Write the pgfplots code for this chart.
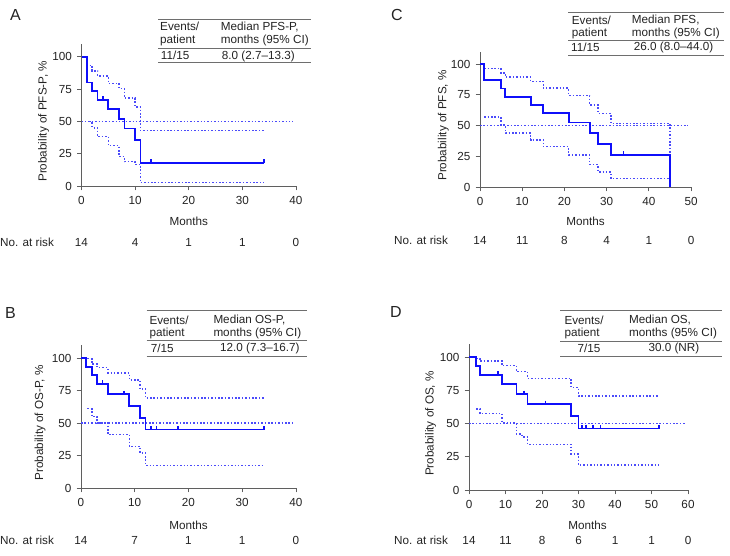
\documentclass[border=0pt]{standalone}
\usepackage{pgfplots}
\pgfplotsset{compat=1.18}
\usepackage{fontspec}
\setmainfont{Liberation Sans}
\definecolor{kmcol}{RGB}{15,15,250}
\definecolor{cicol}{RGB}{75,75,250}
\definecolor{axgray}{RGB}{95,95,95}
\definecolor{txt}{RGB}{35,35,35}
\definecolor{rule}{RGB}{110,110,110}
\newcommand{\lbl}{\fontsize{11.7}{13}\selectfont}
\pgfplotsset{
  kmaxis/.style={scale only axis, axis x line*=bottom, axis y line*=left,
    axis line style={-, draw=axgray, line width=0.8pt},
    tick style={draw=axgray, line width=0.8pt},
    tick align=outside, major tick length=4.5pt,
    ymin=0, ymax=110, ytick={0,25,50,75,100}, xmin=0, clip=false,
    tick label style={font=\lbl, text=txt},
    /pgf/number format/assume math mode=true,
    xticklabel style={anchor=center, yshift=-10pt},
    yticklabel style={xshift=-1.5pt},
  },
  km/.style={kmcol, line width=1.8pt, const plot},
  ci/.style={cicol, line width=1.5pt, dash pattern=on 1.5pt off 1.9pt, const plot},
  med/.style={cicol, line width=1.5pt, dash pattern=on 1.5pt off 1.9pt},
  cens/.style={only marks, mark=|, mark size=2pt, kmcol, mark options={line width=1.5pt, yshift=1.5pt}},
}
\begin{document}
\begin{tikzpicture}[font=\lbl, text=txt]
\path[use as bounding box] (0pt,0pt) rectangle (730pt,556pt);

% ---------------- Panel A ----------------
\begin{axis}[kmaxis, at={(81.5pt,370pt)}, anchor=south west, width=214.5pt, height=142.2pt,
  xmax=40, xtick={0,10,20,30,40}]
\addplot[med] coordinates {(0,50) (39.5,50)};
\addplot[ci] coordinates {(1.5,93.3)(2,89)(3,85)(5,79.4)(7,75.5)(8,68)(10,61)(11,42.8)(34,42.8)};
\addplot[ci] coordinates {(1.5,49.7)(2,45)(3,38.1)(5,31.2)(7,22.7)(8,18.8)(10,16.8)(11,2.6)(34,2.6)};
\addplot[km] coordinates {(0,100)(1,80)(2,73.3)(3,66.7)(5,59.3)(7,51.9)(8,44.4)(10,35.6)(11,17.8)(34,17.8)};
\addplot[cens] coordinates {(4,66.7)(13,17.8)(34,17.8)};
\node[xshift=-38pt, rotate=90] at (axis cs:0,50) {Probability of PFS-P, \%};
\node at (axis cs:20,0) [yshift=-35.5pt] {Months};
\node at (axis cs:0,0) [yshift=-56pt] {14};
\node at (axis cs:10,0) [yshift=-56pt] {4};
\node at (axis cs:20,0) [yshift=-56pt] {1};
\node at (axis cs:30,0) [yshift=-56pt] {1};
\node at (axis cs:40,0) [yshift=-56pt] {0};
\end{axis}

% ---------------- Panel C ----------------
\begin{axis}[kmaxis, at={(480pt,369pt)}, anchor=south west, width=211pt, height=135.3pt,
  xmax=50, xtick={0,10,20,30,40,50}]
\addplot[med] coordinates {(0,50) (49.4,50)};
\addplot[ci] coordinates {(1,96.5)(5,92.5)(6,89.3)(12,85.8)(15,80.3)(21,74.4)(26,66.6)(28,59.8)(31,51.6)(45,6.8)};
\addplot[ci] coordinates {(1,57)(5,50.5)(6,43.7)(12,38.3)(15,32.8)(21,26)(26,18.2)(28,12.2)(31,6.8)(45,6.8)};
\addplot[km] coordinates {(0,100)(1,86.7)(5,80)(6,73.3)(12,66.7)(15,60)(21,52.5)(26,43.7)(28,35)(31,26.2)(45,0)};
\addplot[cens] coordinates {(34,26.2)};
\node[xshift=-36.7pt, rotate=90] at (axis cs:0,50) {Probability of PFS, \%};
\node at (axis cs:25,0) [yshift=-34pt] {Months};
\node at (axis cs:0,0) [yshift=-53pt] {14};
\node at (axis cs:10,0) [yshift=-53pt] {11};
\node at (axis cs:20,0) [yshift=-53pt] {8};
\node at (axis cs:30,0) [yshift=-53pt] {4};
\node at (axis cs:40,0) [yshift=-53pt] {1};
\node at (axis cs:50,0) [yshift=-53pt] {0};
\end{axis}

% ---------------- Panel B ----------------
\begin{axis}[kmaxis, at={(81pt,68pt)}, anchor=south west, width=215pt, height=143pt,
  xmax=40, xtick={0,10,20,30,40}]
\addplot[med] coordinates {(0,50) (39.6,50)};
\addplot[ci] coordinates {(1.2,99.5)(2,95.5)(3,92.5)(5,88.5)(9,83)(11,76)(12,69.2)(34,69.2)};
\addplot[ci] coordinates {(1.2,61)(2,55)(3,50)(5,41)(9,32)(11,27)(12,17.2)(34,17.2)};
\addplot[km] coordinates {(0,100)(1,93.3)(2,86.7)(3,80)(5,72)(9,63)(11,54)(12,45)(34,45)};
\addplot[cens] coordinates {(4,80)(8,72)(13,45)(14,45)(18,45)(34,45)};
\node[xshift=-41pt, rotate=90] at (axis cs:0,50) {Probability of OS-P, \%};
\node at (axis cs:20,0) [yshift=-37pt] {Months};
\node at (axis cs:0,0) [yshift=-52pt] {14};
\node at (axis cs:10,0) [yshift=-52pt] {7};
\node at (axis cs:20,0) [yshift=-52pt] {1};
\node at (axis cs:30,0) [yshift=-52pt] {1};
\node at (axis cs:40,0) [yshift=-52pt] {0};
\end{axis}

% ---------------- Panel D ----------------
\begin{axis}[kmaxis, at={(469pt,66pt)}, anchor=south west, width=219pt, height=146.3pt,
  xmax=60, xtick={0,10,20,30,40,50,60}]
\addplot[med] coordinates {(0,50) (59.3,50)};
\addplot[ci] coordinates {(2,99)(3,97)(9,93.5)(13,89)(16,84)(28,77)(30,70.7)(52,70.7)};
\addplot[ci] coordinates {(2,61)(3,57.6)(9,50.5)(13,42)(14.5,40)(16,34.3)(28,27)(30,18.8)(52,18.8)};
\addplot[km] coordinates {(0,100)(2,93)(3,86.7)(9,79.5)(13,72)(16,64.5)(28,55.5)(30,46.3)(52,46.3)};
\addplot[cens] coordinates {(8,86.7)(15,72)(21,64.5)(31,46.3)(32,46.3)(34,46.3)(36,46.3)(52,46.3)};
\node[xshift=-38.3pt, rotate=90] at (axis cs:0,50) {Probability of OS, \%};
\node at (axis cs:32.5,0) [yshift=-35pt] {Months};
\node at (axis cs:0,0) [yshift=-50pt] {14};
\node at (axis cs:10,0) [yshift=-50pt] {11};
\node at (axis cs:20,0) [yshift=-50pt] {8};
\node at (axis cs:30,0) [yshift=-50pt] {6};
\node at (axis cs:40,0) [yshift=-50pt] {1};
\node at (axis cs:50,0) [yshift=-50pt] {1};
\node at (axis cs:60,0) [yshift=-50pt] {0};
\end{axis}

\begin{scope}[x=1pt,y=1pt]
% ---------------- No. at risk labels ----------------
\node[anchor=west, inner sep=0pt] at (0,313.7) {No. at risk};
\node[anchor=west, inner sep=0pt] at (394,316) {No. at risk};
\node[anchor=west, inner sep=0pt] at (0,16) {No. at risk};
\node[anchor=west, inner sep=0pt] at (394,16) {No. at risk};

% ---------------- Panel letters ----------------
\begin{scope}[font=\fontsize{16}{18}\selectfont]
\node[anchor=west, inner sep=0pt] at (10,541) {A};
\node[anchor=west, inner sep=0pt] at (391,541) {C};
\node[anchor=west, inner sep=0pt] at (5,243) {B};
\node[anchor=west, inner sep=0pt] at (390,244) {D};
\end{scope}

% ---------------- Tables ----------------
\begin{scope}[line width=0.9pt, rule]
\draw (158,537) -- (311,537);
\draw (158,507.7) -- (311,507.7);
\draw (158,493.7) -- (311,493.7);
\draw (568.3,543.3) -- (724.3,543.3);
\draw (568.3,515.3) -- (724.3,515.3);
\draw (568.3,501) -- (724.3,501);
\draw (146.7,245.3) -- (307.3,245.3);
\draw (146.7,215.3) -- (307.3,215.3);
\draw (146.7,200) -- (307.3,200);
\draw (560,245.3) -- (721.7,245.3);
\draw (560,215) -- (721.7,215);
\draw (560,199.3) -- (721.7,199.3);
\end{scope}
\begin{scope}[every node/.style={anchor=west, inner sep=0pt}]
\node at (160,529.3) {Events/};
\node at (160,515.3) {patient};
\node at (220.7,529.3) {Median PFS-P,};
\node at (220.7,515.3) {months (95\% CI)};
\node at (160.7,500.5) {11/15};
\node at (221.7,500) {8.0 (2.7--13.3)};
\node at (571.7,536) {Events/};
\node at (571.7,522.7) {patient};
\node at (631.7,536) {Median PFS,};
\node at (631.7,522.7) {months (95\% CI)};
\node at (571,508.3) {11/15};
\node at (633.7,508.3) {26.0 (8.0--44.0)};
\node at (149.3,236) {Events/};
\node at (149.3,222.7) {patient};
\node at (213.3,236) {Median OS-P,};
\node at (213.3,222.7) {months (95\% CI)};
\node at (150.7,207.7) {7/15};
\node at (220,207.7) {12.0 (7.3--16.7)};
\node at (564.3,236) {Events/};
\node at (564.3,222.7) {patient};
\node at (629,236) {Median OS,};
\node at (629,222.7) {months (95\% CI)};
\node at (577.3,207.7) {7/15};
\node at (648.3,207.7) {30.0 (NR)};
\end{scope}
\end{scope}
\end{tikzpicture}
\end{document}
